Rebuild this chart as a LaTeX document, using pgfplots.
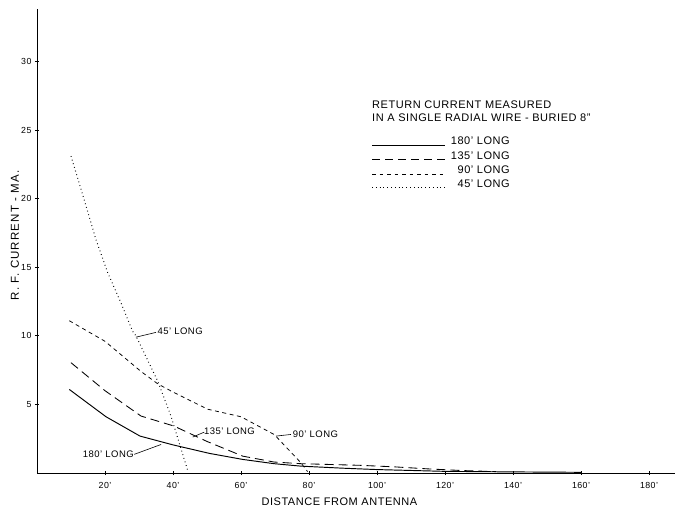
\documentclass[border=0pt]{standalone}
\usepackage{fontspec}
\setmainfont{Liberation Sans}[LetterSpace=5]
\newfontfamily\widefont{Liberation Sans}[LetterSpace=10]
\usepackage{pgfplots}
\pgfplotsset{compat=1.18}
\begin{document}
\begin{tikzpicture}[x=1pt,y=1pt]
\useasboundingbox (-37,-34) rectangle (638,473);
\begin{axis}[
  at={(0,0)}, anchor=south west,
  scale only axis, width=638pt, height=464pt,
  xmin=0, xmax=187.65, ymin=0, ymax=33.82,
  axis x line=bottom, axis y line=left,
  axis line style={-, line width=0.8pt},
  xtick={20,40,...,180},
  xticklabels={20',40',60',80',100',120',140',160',180'},
  ytick={5,10,...,30},
  yticklabels={5,10,15,20,25,30},
  tick align=center, major tick length=4pt,
  tick style={line width=0.7pt, black},
  ticklabel style={font=\fontsize{8.8}{10}\selectfont},
  xticklabel style={yshift=-4pt},
  xlabel={DISTANCE FROM ANTENNA},
  xlabel style={at={(axis description cs:0.474,0)}, anchor=center, yshift=-28.7pt, font=\fontsize{11}{13}\selectfont},
  ylabel={R. F. CURRENT - MA.},
  ylabel style={at={(axis description cs:-0.0345,0.512)}, anchor=center, font=\widefont\fontsize{11.5}{13}\selectfont},
  clip=false,
]
% 180' long
\addplot[black, mark=none, line width=0.95pt] coordinates {
 (9.5,6.09) (20.3,4.10) (30.3,2.69) (40,2.05) (50.7,1.43) (60.5,0.99) (69.7,0.68) (77.6,0.50)
 (90,0.35) (100,0.25) (120,0.12) (140,0.08) (160,0.05)};
% 135' long
\addplot[black, mark=none, line width=0.85pt, dash pattern=on 9pt off 5pt] coordinates {
 (10,8.04) (20,6.0) (30.6,4.15) (40.3,3.42) (50,2.3) (60.5,1.23) (69.7,0.8) (77.6,0.68)
 (95,0.56) (105,0.45) (115,0.3) (125,0.18) (135,0.1)};
% 90' long
\addplot[black, mark=none, line width=0.75pt, dash pattern=on 4pt off 3.5pt] coordinates {
 (9.5,11.1) (20,9.6) (30.6,7.4) (35.5,6.5) (40,5.9) (50.2,4.65) (60,4.1) (69.8,2.8) (77.6,0.75) (79.6,0.1)};
% 45' long
\addplot[black, mark=none, line width=1pt, dash pattern=on 0.8pt off 3pt] coordinates {
 (10,23.1) (13.9,19.9) (17.35,17.0) (20.8,14.6) (24.7,12.4) (28.1,10.34) (29.1,10.0) (35.5,6.7) (39.4,4.15) (44.3,0.2)};
% annotations
\node[font=\fontsize{9.5}{11}\selectfont, inner sep=0] at (axis cs:42.1,10.32) {45' LONG};
\draw[line width=0.6pt] (axis cs:29.1,9.9) -- (axis cs:35,10.25);
\node[font=\fontsize{9.5}{11}\selectfont, inner sep=0] at (axis cs:56.6,3.01) {135' LONG};
\draw[line width=0.6pt] (axis cs:45.8,2.62) -- (axis cs:49.2,2.98);
\node[font=\fontsize{9.5}{11}\selectfont, inner sep=0] at (axis cs:81.9,2.81) {90' LONG};
\draw[line width=0.6pt] (axis cs:70.3,2.69) -- (axis cs:74.7,2.81);
\node[font=\fontsize{9.5}{11}\selectfont, inner sep=0] at (axis cs:21.0,1.36) {180' LONG};
\draw[line width=0.6pt] (axis cs:28.6,1.36) -- (axis cs:36.5,2.08);
\end{axis}
% legend block
\node[anchor=base west, inner sep=0, font=\fontsize{11}{13}\selectfont] at (335,364.1) {RETURN CURRENT MEASURED};
\node[anchor=base west, inner sep=0, font=\fontsize{11}{13}\selectfont] at (335,351) {IN A SINGLE RADIAL WIRE - BURIED 8''};
\node[anchor=base east, inner sep=0, font=\fontsize{11}{13}\selectfont] at (473,328) {180' LONG};
\node[anchor=base east, inner sep=0, font=\fontsize{11}{13}\selectfont] at (473,313.5) {135' LONG};
\node[anchor=base east, inner sep=0, font=\fontsize{11}{13}\selectfont] at (473,299) {90' LONG};
\node[anchor=base east, inner sep=0, font=\fontsize{11}{13}\selectfont] at (473,285) {45' LONG};
\draw[line width=0.95pt] (335,328) -- (408,328);
\draw[line width=0.85pt, dash pattern=on 8pt off 5pt] (335,313.5) -- (408,313.5);
\draw[line width=0.75pt, dash pattern=on 3.5pt off 4pt] (335,299) -- (408,299);
\draw[line width=1pt, dash pattern=on 0.8pt off 3pt] (335,285) -- (408,285);
\end{tikzpicture}
\end{document}
